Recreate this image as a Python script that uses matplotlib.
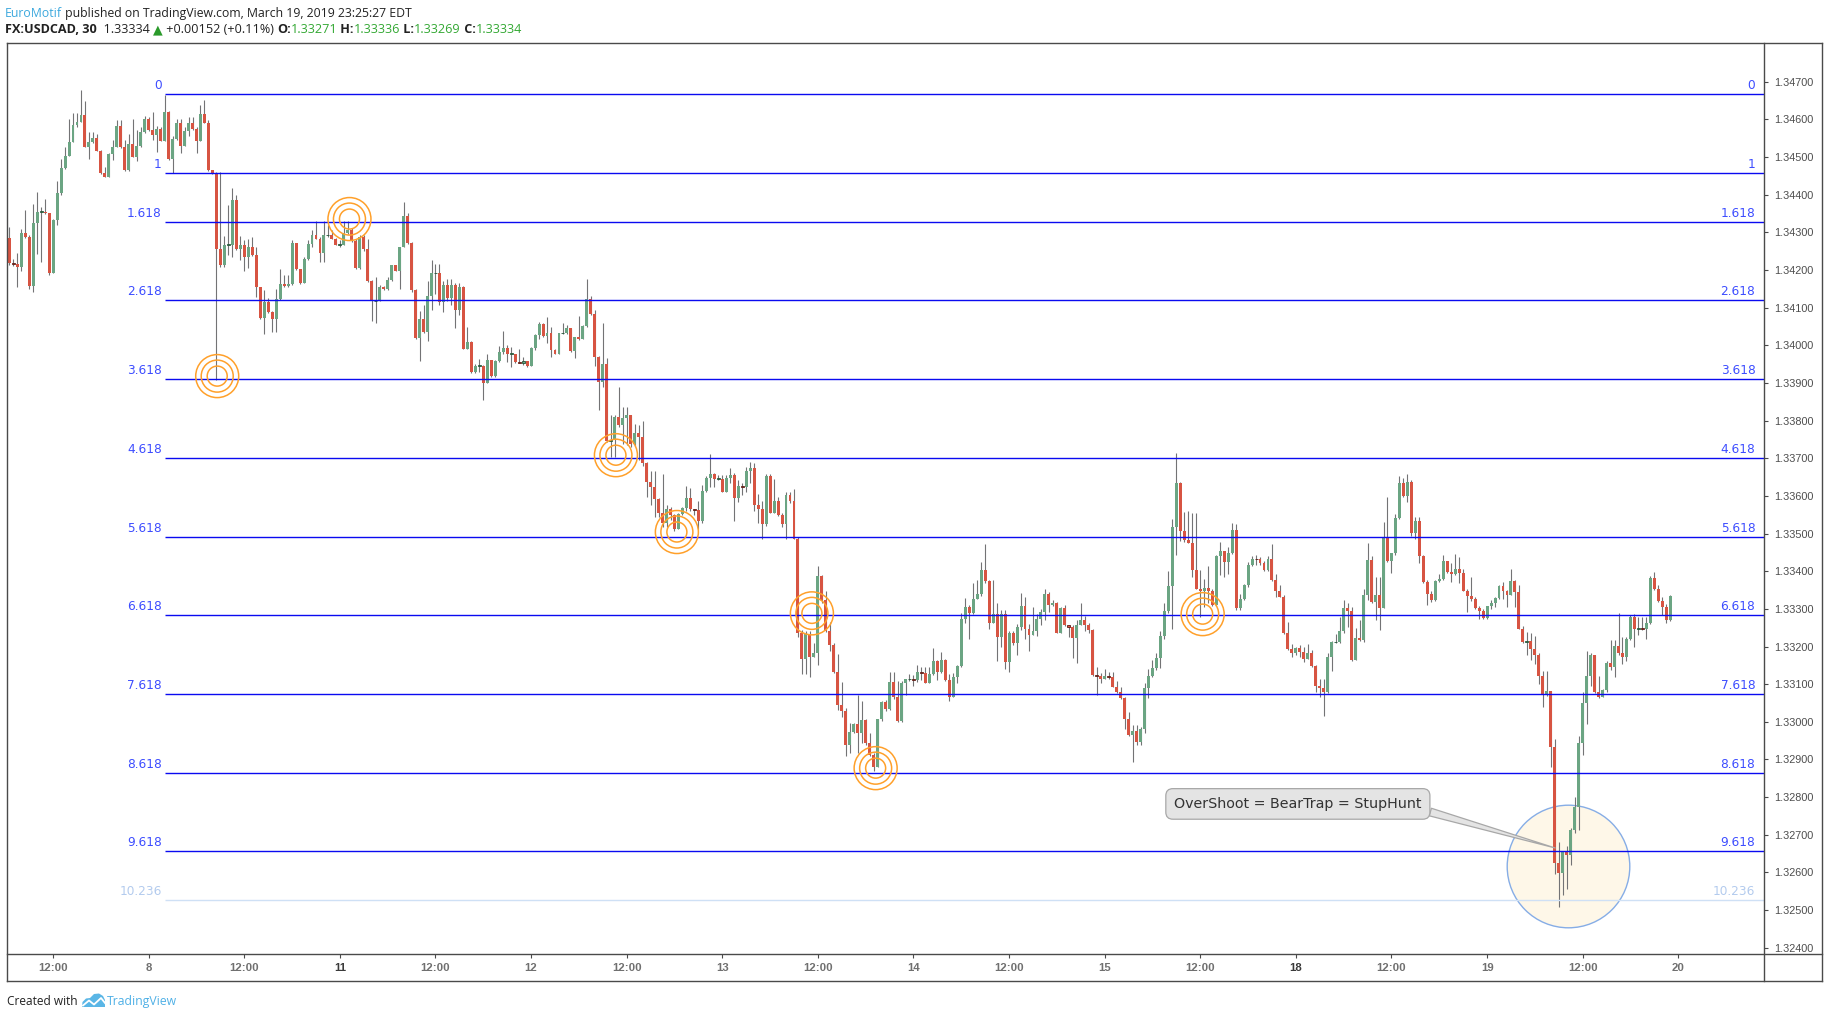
import numpy as np
import matplotlib
matplotlib.use("Agg")
import matplotlib.pyplot as plt
from matplotlib.lines import Line2D
from matplotlib.patches import Polygon
from matplotlib.ticker import FormatStrFormatter

# ---------------- data (USDCAD, 30 min) ----------------
first_open = 1.34285
closes = [
 1.34218, 1.34217, 1.34207, 1.34297, 1.34288, 1.34156, 1.34324, 1.34354, 1.34354, 1.34350,
 1.34193, 1.34333, 1.34403, 1.34471, 1.34503, 1.34540, 1.34586, 1.34593, 1.34612, 1.34527,
 1.34540, 1.34549, 1.34517, 1.34457, 1.34448, 1.34508, 1.34527, 1.34582, 1.34526, 1.34465,
 1.34534, 1.34501, 1.34529, 1.34566, 1.34600, 1.34571, 1.34557, 1.34573, 1.34543, 1.34619,
 1.34495, 1.34547, 1.34591, 1.34530, 1.34568, 1.34591, 1.34573, 1.34543, 1.34614, 1.34591,
 1.34464, 1.34457, 1.34256, 1.34214, 1.34267, 1.34267, 1.34386, 1.34256, 1.34265, 1.34233,
 1.34260, 1.34239, 1.34154, 1.34072, 1.34115, 1.34087, 1.34070, 1.34122, 1.34163, 1.34157,
 1.34163, 1.34271, 1.34202, 1.34166, 1.34228, 1.34269, 1.34292, 1.34283, 1.34246, 1.34292,
 1.34292, 1.34283, 1.34267, 1.34267, 1.34297, 1.34306, 1.34276, 1.34205, 1.34287, 1.34256,
 1.34171, 1.34117, 1.34118, 1.34155, 1.34148, 1.34173, 1.34212, 1.34198, 1.34260, 1.34343,
 1.34272, 1.34147, 1.34019, 1.34069, 1.34035, 1.34131, 1.34191, 1.34193, 1.34115, 1.34159,
 1.34125, 1.34159, 1.34094, 1.34154, 1.33991, 1.34009, 1.33929, 1.33945, 1.33945, 1.33901,
 1.33961, 1.33918, 1.33957, 1.33982, 1.33993, 1.33977, 1.33978, 1.33955, 1.33954, 1.33957,
 1.33945, 1.33993, 1.34026, 1.34056, 1.34025, 1.34032, 1.33987, 1.33978, 1.34032, 1.34032,
 1.34047, 1.33984, 1.34021, 1.34017, 1.34051, 1.34122, 1.34083, 1.33968, 1.33902, 1.33950,
 1.33747, 1.33748, 1.33810, 1.33787, 1.33807, 1.33814, 1.33739, 1.33766, 1.33757, 1.33688,
 1.33637, 1.33624, 1.33591, 1.33554, 1.33529, 1.33564, 1.33548, 1.33513, 1.33552, 1.33568,
 1.33594, 1.33564, 1.33562, 1.33534, 1.33614, 1.33648, 1.33658, 1.33646, 1.33646, 1.33610,
 1.33648, 1.33656, 1.33593, 1.33626, 1.33623, 1.33667, 1.33674, 1.33575, 1.33564, 1.33525,
 1.33653, 1.33555, 1.33587, 1.33550, 1.33524, 1.33601, 1.33586, 1.33486, 1.33235, 1.33168,
 1.33233, 1.33173, 1.33182, 1.33387, 1.33324, 1.33242, 1.33205, 1.33132, 1.33046, 1.33030,
 1.32939, 1.32973, 1.32994, 1.32971, 1.33005, 1.32943, 1.32911, 1.32881, 1.33007, 1.33053,
 1.33035, 1.33106, 1.33067, 1.33001, 1.33102, 1.33113, 1.33113, 1.33111, 1.33132, 1.33129,
 1.33104, 1.33127, 1.33162, 1.33131, 1.33164, 1.33111, 1.33067, 1.33118, 1.33148, 1.33272,
 1.33306, 1.33288, 1.33325, 1.33339, 1.33403, 1.33373, 1.33263, 1.33286, 1.33226, 1.33286,
 1.33159, 1.33237, 1.33210, 1.33251, 1.33308, 1.33247, 1.33231, 1.33242, 1.33272, 1.33292,
 1.33339, 1.33309, 1.33316, 1.33237, 1.33302, 1.33256, 1.33253, 1.33223, 1.33258, 1.33270,
 1.33258, 1.33244, 1.33125, 1.33123, 1.33115, 1.33123, 1.33120, 1.33093, 1.33079, 1.33063,
 1.33008, 1.32964, 1.32975, 1.32947, 1.32982, 1.33090, 1.33122, 1.33143, 1.33170, 1.33228,
 1.33293, 1.33361, 1.33516, 1.33635, 1.33508, 1.33483, 1.33476, 1.33403, 1.33354, 1.33348,
 1.33355, 1.33347, 1.33311, 1.33439, 1.33454, 1.33424, 1.33449, 1.33509, 1.33301, 1.33325,
 1.33364, 1.33416, 1.33433, 1.33432, 1.33423, 1.33403, 1.33433, 1.33377, 1.33347, 1.33332,
 1.33235, 1.33194, 1.33182, 1.33196, 1.33185, 1.33168, 1.33182, 1.33148, 1.33095, 1.33090,
 1.33079, 1.33171, 1.33212, 1.33212, 1.33240, 1.33302, 1.33295, 1.33164, 1.33223, 1.33216,
 1.33336, 1.33430, 1.33318, 1.33336, 1.33302, 1.33492, 1.33428, 1.33447, 1.33541, 1.33635,
 1.33600, 1.33637, 1.33502, 1.33532, 1.33440, 1.33370, 1.33339, 1.33324, 1.33373, 1.33380,
 1.33426, 1.33398, 1.33393, 1.33405, 1.33396, 1.33348, 1.33334, 1.33327, 1.33302, 1.33295,
 1.33276, 1.33308, 1.33316, 1.33329, 1.33361, 1.33347, 1.33338, 1.33373, 1.33345, 1.33247,
 1.33212, 1.33214, 1.33194, 1.33178, 1.33122, 1.33071, 1.33081, 1.32932, 1.32624, 1.32598,
 1.32654, 1.32646, 1.32713, 1.32775, 1.32943, 1.33049, 1.33122, 1.33177, 1.33079, 1.33067,
 1.33085, 1.33157, 1.33145, 1.33201, 1.33182, 1.33171, 1.33219, 1.33279, 1.33247, 1.33249,
 1.33247, 1.33262, 1.33382, 1.33352, 1.33322, 1.33306, 1.33271, 1.33334]
highs = [
 1.34315, 1.34230, 1.34244, 1.34308, 1.34359, 1.34292, 1.34375, 1.34407, 1.34368, 1.34389,
 1.34350, 1.34334, 1.34437, 1.34495, 1.34527, 1.34602, 1.34616, 1.34616, 1.34678, 1.34649,
 1.34566, 1.34566, 1.34561, 1.34518, 1.34472, 1.34510, 1.34545, 1.34598, 1.34598, 1.34545,
 1.34562, 1.34600, 1.34571, 1.34580, 1.34609, 1.34605, 1.34619, 1.34582, 1.34580, 1.34665,
 1.34623, 1.34555, 1.34600, 1.34602, 1.34580, 1.34605, 1.34605, 1.34580, 1.34639, 1.34651,
 1.34598, 1.34464, 1.34460, 1.34460, 1.34290, 1.34372, 1.34417, 1.34398, 1.34290, 1.34279,
 1.34281, 1.34287, 1.34262, 1.34155, 1.34147, 1.34125, 1.34090, 1.34148, 1.34203, 1.34186,
 1.34186, 1.34279, 1.34271, 1.34203, 1.34233, 1.34279, 1.34306, 1.34331, 1.34287, 1.34331,
 1.34318, 1.34306, 1.34285, 1.34279, 1.34331, 1.34329, 1.34310, 1.34281, 1.34294, 1.34294,
 1.34281, 1.34173, 1.34180, 1.34160, 1.34157, 1.34182, 1.34214, 1.34214, 1.34262, 1.34380,
 1.34350, 1.34275, 1.34150, 1.34092, 1.34106, 1.34170, 1.34226, 1.34215, 1.34217, 1.34171,
 1.34177, 1.34177, 1.34164, 1.34164, 1.34156, 1.34049, 1.34011, 1.33950, 1.33963, 1.33947,
 1.33977, 1.33961, 1.33961, 1.33998, 1.34039, 1.34001, 1.33994, 1.33977, 1.33991, 1.33968,
 1.33959, 1.33994, 1.34030, 1.34062, 1.34058, 1.34074, 1.34049, 1.33989, 1.34033, 1.34058,
 1.34053, 1.34047, 1.34023, 1.34078, 1.34053, 1.34176, 1.34132, 1.34094, 1.33972, 1.34060,
 1.33966, 1.33814, 1.33814, 1.33890, 1.33837, 1.33837, 1.33816, 1.33791, 1.33789, 1.33800,
 1.33690, 1.33665, 1.33665, 1.33593, 1.33658, 1.33575, 1.33570, 1.33552, 1.33555, 1.33571,
 1.33626, 1.33621, 1.33566, 1.33587, 1.33630, 1.33653, 1.33711, 1.33660, 1.33655, 1.33656,
 1.33655, 1.33674, 1.33660, 1.33642, 1.33633, 1.33676, 1.33690, 1.33688, 1.33605, 1.33587,
 1.33658, 1.33658, 1.33646, 1.33598, 1.33555, 1.33609, 1.33609, 1.33617, 1.33490, 1.33244,
 1.33240, 1.33240, 1.33208, 1.33414, 1.33391, 1.33348, 1.33265, 1.33208, 1.33180, 1.33106,
 1.33036, 1.32996, 1.32998, 1.33071, 1.33056, 1.33008, 1.32970, 1.32918, 1.33008, 1.33055,
 1.33058, 1.33132, 1.33132, 1.33108, 1.33108, 1.33115, 1.33127, 1.33124, 1.33150, 1.33145,
 1.33145, 1.33145, 1.33196, 1.33164, 1.33185, 1.33166, 1.33127, 1.33129, 1.33152, 1.33288,
 1.33329, 1.33309, 1.33368, 1.33377, 1.33424, 1.33472, 1.33377, 1.33377, 1.33315, 1.33297,
 1.33297, 1.33242, 1.33242, 1.33260, 1.33341, 1.33331, 1.33260, 1.33304, 1.33286, 1.33299,
 1.33352, 1.33345, 1.33323, 1.33318, 1.33306, 1.33309, 1.33258, 1.33256, 1.33270, 1.33315,
 1.33281, 1.33263, 1.33247, 1.33145, 1.33129, 1.33141, 1.33132, 1.33132, 1.33108, 1.33093,
 1.33065, 1.33026, 1.32991, 1.32992, 1.32987, 1.33102, 1.33139, 1.33164, 1.33182, 1.33240,
 1.33316, 1.33401, 1.33539, 1.33713, 1.33637, 1.33557, 1.33561, 1.33555, 1.33554, 1.33403,
 1.33378, 1.33414, 1.33354, 1.33444, 1.33477, 1.33454, 1.33463, 1.33527, 1.33525, 1.33339,
 1.33366, 1.33424, 1.33439, 1.33444, 1.33437, 1.33426, 1.33439, 1.33472, 1.33393, 1.33362,
 1.33338, 1.33265, 1.33207, 1.33200, 1.33205, 1.33198, 1.33207, 1.33191, 1.33150, 1.33115,
 1.33115, 1.33184, 1.33214, 1.33233, 1.33279, 1.33323, 1.33316, 1.33306, 1.33249, 1.33270,
 1.33354, 1.33474, 1.33439, 1.33385, 1.33385, 1.33531, 1.33598, 1.33449, 1.33552, 1.33653,
 1.33647, 1.33658, 1.33641, 1.33545, 1.33545, 1.33442, 1.33377, 1.33348, 1.33377, 1.33393,
 1.33442, 1.33428, 1.33421, 1.33446, 1.33437, 1.33407, 1.33352, 1.33385, 1.33332, 1.33308,
 1.33299, 1.33308, 1.33324, 1.33332, 1.33364, 1.33370, 1.33350, 1.33405, 1.33377, 1.33362,
 1.33255, 1.33239, 1.33235, 1.33228, 1.33182, 1.33134, 1.33136, 1.33083, 1.32955, 1.32681,
 1.32656, 1.32670, 1.32718, 1.32801, 1.32962, 1.33078, 1.33187, 1.33184, 1.33178, 1.33122,
 1.33088, 1.33161, 1.33217, 1.33217, 1.33288, 1.33226, 1.33224, 1.33283, 1.33285, 1.33278,
 1.33278, 1.33278, 1.33387, 1.33398, 1.33362, 1.33332, 1.33313, 1.33336]
lows = [
 1.34212, 1.34210, 1.34154, 1.34198, 1.34284, 1.34150, 1.34141, 1.34242, 1.34222, 1.34348,
 1.34186, 1.34191, 1.34318, 1.34400, 1.34469, 1.34503, 1.34540, 1.34580, 1.34593, 1.34527,
 1.34494, 1.34538, 1.34515, 1.34455, 1.34446, 1.34448, 1.34492, 1.34526, 1.34524, 1.34463,
 1.34462, 1.34499, 1.34488, 1.34527, 1.34564, 1.34569, 1.34545, 1.34513, 1.34541, 1.34543,
 1.34493, 1.34457, 1.34545, 1.34511, 1.34529, 1.34556, 1.34571, 1.34511, 1.34541, 1.34589,
 1.34462, 1.34455, 1.33908, 1.34207, 1.34207, 1.34239, 1.34233, 1.34254, 1.34226, 1.34196,
 1.34205, 1.34237, 1.34127, 1.34070, 1.34030, 1.34085, 1.34035, 1.34035, 1.34120, 1.34155,
 1.34155, 1.34161, 1.34200, 1.34163, 1.34164, 1.34226, 1.34262, 1.34281, 1.34221, 1.34221,
 1.34287, 1.34281, 1.34265, 1.34262, 1.34265, 1.34295, 1.34274, 1.34203, 1.34203, 1.34250,
 1.34169, 1.34065, 1.34060, 1.34117, 1.34147, 1.34147, 1.34171, 1.34196, 1.34150, 1.34260,
 1.34270, 1.34141, 1.34017, 1.33959, 1.34033, 1.34012, 1.34094, 1.34135, 1.34106, 1.34088,
 1.34118, 1.34106, 1.34046, 1.34079, 1.33989, 1.33989, 1.33927, 1.33927, 1.33929, 1.33855,
 1.33899, 1.33916, 1.33916, 1.33955, 1.33978, 1.33955, 1.33943, 1.33954, 1.33952, 1.33947,
 1.33943, 1.33945, 1.33986, 1.34017, 1.34023, 1.34007, 1.33968, 1.33977, 1.33978, 1.34030,
 1.34030, 1.33982, 1.33966, 1.34015, 1.34017, 1.34049, 1.34081, 1.33945, 1.33828, 1.33890,
 1.33744, 1.33704, 1.33702, 1.33784, 1.33739, 1.33735, 1.33731, 1.33732, 1.33695, 1.33678,
 1.33598, 1.33575, 1.33545, 1.33545, 1.33518, 1.33518, 1.33536, 1.33506, 1.33511, 1.33548,
 1.33561, 1.33561, 1.33550, 1.33513, 1.33527, 1.33609, 1.33624, 1.33624, 1.33642, 1.33609,
 1.33609, 1.33633, 1.33534, 1.33584, 1.33603, 1.33609, 1.33633, 1.33559, 1.33527, 1.33486,
 1.33520, 1.33554, 1.33554, 1.33547, 1.33518, 1.33486, 1.33580, 1.33485, 1.33224, 1.33127,
 1.33127, 1.33120, 1.33171, 1.33152, 1.33315, 1.33239, 1.33189, 1.33129, 1.33032, 1.33014,
 1.32908, 1.32918, 1.32970, 1.32916, 1.32943, 1.32939, 1.32908, 1.32869, 1.32879, 1.33001,
 1.33028, 1.33032, 1.33060, 1.33000, 1.33000, 1.33071, 1.33108, 1.33095, 1.33106, 1.33111,
 1.33102, 1.33102, 1.33125, 1.33111, 1.33129, 1.33109, 1.33055, 1.33065, 1.33102, 1.33145,
 1.33262, 1.33221, 1.33285, 1.33325, 1.33334, 1.33369, 1.33247, 1.33262, 1.33162, 1.33200,
 1.33141, 1.33131, 1.33205, 1.33177, 1.33244, 1.33221, 1.33189, 1.33230, 1.33228, 1.33258,
 1.33270, 1.33292, 1.33308, 1.33236, 1.33235, 1.33254, 1.33226, 1.33170, 1.33157, 1.33256,
 1.33242, 1.33237, 1.33123, 1.33070, 1.33102, 1.33113, 1.33115, 1.33092, 1.33076, 1.33060,
 1.32980, 1.32962, 1.32893, 1.32939, 1.32939, 1.32970, 1.33062, 1.33120, 1.33138, 1.33143,
 1.33219, 1.33290, 1.33246, 1.33442, 1.33481, 1.33477, 1.33474, 1.33384, 1.33352, 1.33279,
 1.33304, 1.33316, 1.33308, 1.33308, 1.33389, 1.33384, 1.33393, 1.33446, 1.33297, 1.33297,
 1.33323, 1.33359, 1.33414, 1.33417, 1.33417, 1.33401, 1.33401, 1.33373, 1.33331, 1.33331,
 1.33233, 1.33191, 1.33173, 1.33178, 1.33173, 1.33159, 1.33166, 1.33145, 1.33079, 1.33067,
 1.33015, 1.33077, 1.33136, 1.33208, 1.33208, 1.33237, 1.33253, 1.33161, 1.33164, 1.33214,
 1.33212, 1.33323, 1.33316, 1.33270, 1.33244, 1.33302, 1.33424, 1.33394, 1.33444, 1.33538,
 1.33598, 1.33584, 1.33493, 1.33486, 1.33421, 1.33368, 1.33311, 1.33318, 1.33322, 1.33370,
 1.33377, 1.33396, 1.33370, 1.33390, 1.33368, 1.33347, 1.33292, 1.33322, 1.33299, 1.33274,
 1.33274, 1.33274, 1.33299, 1.33306, 1.33325, 1.33325, 1.33306, 1.33336, 1.33306, 1.33246,
 1.33208, 1.33177, 1.33164, 1.33154, 1.33101, 1.33040, 1.33069, 1.32879, 1.32596, 1.32508,
 1.32541, 1.32557, 1.32621, 1.32706, 1.32713, 1.32911, 1.32993, 1.33095, 1.33076, 1.33062,
 1.33065, 1.33079, 1.33138, 1.33120, 1.33178, 1.33154, 1.33162, 1.33217, 1.33200, 1.33231,
 1.33244, 1.33219, 1.33260, 1.33350, 1.33318, 1.33283, 1.33263, 1.33269]

time_labels = ['12:00', '8', '12:00', '11', '12:00', '12', '12:00', '13', '12:00',
               '14', '12:00', '15', '12:00', '18', '12:00', '19', '12:00', '20']
week_start_labels = ['11', '18']

fib_levels = [0, 1, 1.618, 2.618, 3.618, 4.618, 5.618, 6.618, 7.618, 8.618, 9.618, 10.236]
fib_level_labels = ['0', '1', '1.618', '2.618', '3.618', '4.618', '5.618', '6.618',
                    '7.618', '8.618', '9.618', '10.236']
fib_price_0 = 1.34666
fib_price_1 = 1.34457
fib_start_bar = 39

ring_bars = [52.2, 85.4, 152.3, 167.6, 201.5, 217.5, 299.6]
ring_prices = [1.33918, 1.34335, 1.33708, 1.33504, 1.33288, 1.32877, 1.33286]

callout_text = 'OverShoot = BearTrap = StupHunt'
callout_target = (388.1, 1.32665)
callout_box_at = (323.5, 1.32782)
spot_circle = (391.3, 1.32616)

price_ticks = [1.324, 1.325, 1.326, 1.327, 1.328, 1.329, 1.330, 1.331, 1.332, 1.333, 1.334, 1.335,
               1.336, 1.337, 1.338, 1.339, 1.340, 1.341, 1.342, 1.343, 1.344, 1.345, 1.346, 1.347]

# ---------------- figure ----------------
W, H, DPI = 1828, 1018, 100
fig = plt.figure(figsize=(W / DPI, H / DPI), dpi=DPI, facecolor='white')

def fx(x):
    return x / W

def fy(y):
    return 1 - y / H

L_PX, R_PX, T_PX, B_PX = 6.7, 1764.3, 43.0, 954.3
OUT_R, OUT_B = 1822.0, 981.0
ax = fig.add_axes([fx(L_PX), fy(B_PX), fx(R_PX) - fx(L_PX), fy(T_PX) - fy(B_PX)])
ax.set_xlim(-0.65, 440.6)
ax.set_ylim(1.323827, 1.348025)
for s in ax.spines.values():
    s.set_visible(False)
ax.set_facecolor('white')

# candles
c = np.array(closes)
o = np.concatenate([[first_open], c[:-1]])
h = np.maximum.reduce([np.array(highs), o, c])
l = np.minimum.reduce([np.array(lows), o, c])
x = np.arange(len(c))
up = c >= o
ax.vlines(x, l, h, colors='#737375', linewidth=0.8, zorder=3)
bh = np.abs(c - o)
doji = bh < 0.00003
bh = np.maximum(bh, 0.000012)
fill = np.where(up, '#6ba583', '#d75442')
edge = np.where(doji, np.where(up, '#225437', '#5b1a13'), fill)
lws = np.where(doji, 0.6, 0.0)
ax.bar(x, bh, bottom=np.minimum(o, c), width=0.74, color=fill, edgecolor=edge,
       linewidth=lws, zorder=3.5)

# fib extension levels
unit = fib_price_0 - fib_price_1
fib_prices = fib_price_0 - np.array(fib_levels) * unit
xr = ax.get_xlim()[1]
for lvl, lab, p in zip(fib_levels, fib_level_labels, fib_prices):
    faint = lvl > 10
    lc = '#cfe0f5' if faint else '#0a0af0'
    tc = '#b3cbee' if faint else '#3d4dff'
    ax.hlines(p, fib_start_bar, xr, colors=lc, linewidth=1.0, zorder=4)
    ax.annotate(lab, (fib_start_bar, p), xytext=(-3, 2), textcoords='offset pixels',
                ha='right', va='bottom', color=tc, fontsize=8.7, family='DejaVu Sans', zorder=4)
    ax.annotate(lab, (xr, p), xytext=(-9, 2), textcoords='offset pixels',
                ha='right', va='bottom', color=tc, fontsize=8.7, family='DejaVu Sans', zorder=4)

# highlight circle
d_pt = 2 * 61.3 * 72 / DPI
ax.scatter([spot_circle[0]], [spot_circle[1]], s=d_pt ** 2, facecolor='#fef7e8',
           edgecolor='#86ade6', linewidth=1.0, zorder=1)

# orange target rings
for r in (10, 16, 21.5):
    dp = 2 * r * 72 / DPI
    ax.scatter(ring_bars, ring_prices, s=dp ** 2, facecolors='none', edgecolors='#ffa02a',
               linewidths=1.1, zorder=5)

# callout
ax.annotate(callout_text, xy=callout_target, xytext=callout_box_at, textcoords='data',
            ha='center', va='center', fontsize=10.3, color='#333333', family='DejaVu Sans',
            bbox=dict(boxstyle='round,pad=0.58,rounding_size=0.5', fc='#e4e4e4', ec='#a8a8a8', lw=0.9),
            arrowprops=dict(arrowstyle='wedge,tail_width=0.55,shrink_factor=0.5',
                            fc='#e4e4e4', ec='#a8a8a8', lw=0.9, shrinkA=0, shrinkB=0,
                            relpos=(1.0, 0.1)),
            zorder=6)

# price axis (right)
ax.yaxis.tick_right()
ax.set_yticks(price_ticks)
ax.yaxis.set_major_formatter(FormatStrFormatter('%.5f'))
ax.tick_params(axis='y', direction='out', length=3.0, width=0.8, colors='#4a4a4a',
               labelsize=7.8, pad=4.3, labelcolor='#4d4d4d')
for t in ax.get_yticklabels():
    t.set_family('Liberation Sans')

# time axis
tick_pos = np.arange(len(time_labels)) * 24 + 11
ax.set_xticks(tick_pos)
ax.set_xticklabels(time_labels)
ax.tick_params(axis='x', direction='out', length=2.6, width=0.8, colors='#4a4a4a',
               labelsize=8.2, pad=4.0, labelcolor='#707070')
for t in ax.get_xticklabels():
    t.set_family('Liberation Sans')
    t.set_fontweight('bold')
    if t.get_text() in week_start_labels:
        t.set_color('#3a3a3a')

# frame lines
frame_c = '#4a4a4a'
def fline(x0, y0, x1, y1):
    fig.add_artist(Line2D([fx(x0), fx(x1)], [fy(y0), fy(y1)], transform=fig.transFigure,
                          color=frame_c, linewidth=1.0))
fline(L_PX, T_PX, OUT_R, T_PX)
fline(L_PX, OUT_B, OUT_R, OUT_B)
fline(L_PX, T_PX, L_PX, OUT_B)
fline(OUT_R, T_PX, OUT_R, OUT_B)
fline(R_PX, T_PX, R_PX, OUT_B)
fline(L_PX, B_PX, OUT_R, B_PX)

# header
renderer = fig.canvas.get_renderer()
HDR_FAM = ['Open Sans', 'DejaVu Sans']

def seq_text(x0, ybase, parts, size):
    xc = x0
    for s, col, wt in parts:
        t = fig.text(fx(xc), fy(ybase), s, color=col, fontsize=size, fontweight=wt,
                     family=HDR_FAM, ha='left', va='baseline')
        xc += t.get_window_extent(renderer=renderer).width

dark = '#222222'
grn = '#33a833'
seq_text(5, 17.0, [('EuroMotif', '#3ca8dd', 'normal'),
                   (' published on TradingView.com, March 19, 2019 23:25:27 EDT', dark, 'normal')], 8.85)
seq_text(5, 33.0, [('FX:USDCAD, 30', dark, 'bold'), ('  1.33334 ', dark, 'normal'),
                   ('\u25b2', '#2a9a2a', 'normal'), (' +0.00152 (+0.11%) ', dark, 'normal'),
                   ('O:', dark, 'bold'), ('1.33271', grn, 'normal'),
                   (' H:', dark, 'bold'), ('1.33336', grn, 'normal'),
                   (' L:', dark, 'bold'), ('1.33269', grn, 'normal'),
                   (' C:', dark, 'bold'), ('1.33334', grn, 'normal')], 9.1)

# footer
fig.text(fx(6.7), fy(1005), 'Created with', color=dark, fontsize=8.6, family=HDR_FAM,
         ha='left', va='baseline')
logo_c = '#5ab6e6'
cloud = Polygon([(fx(82), fy(1007)), (fx(82.5), fy(1002)), (fx(86), fy(998.5)), (fx(90), fy(998)),
                 (fx(94), fy(994)), (fx(99), fy(993.5)), (fx(103), fy(996)), (fx(105), fy(1000)),
                 (fx(105), fy(1007))], closed=True, transform=fig.transFigure,
                facecolor=logo_c, edgecolor='none')
fig.add_artist(cloud)
fig.add_artist(Line2D([fx(83), fx(89), fx(94), fx(101), fx(105)],
                      [fy(1005.5), fy(1000.5), fy(1004.5), fy(998), fy(1003)],
                      transform=fig.transFigure, color='white', linewidth=1.3))
fig.text(fx(106.5), fy(1005), 'TradingView', color='#4fb0e6', fontsize=8.8, family=HDR_FAM,
         ha='left', va='baseline')

fig.savefig('out.png', dpi=DPI, facecolor='white')
